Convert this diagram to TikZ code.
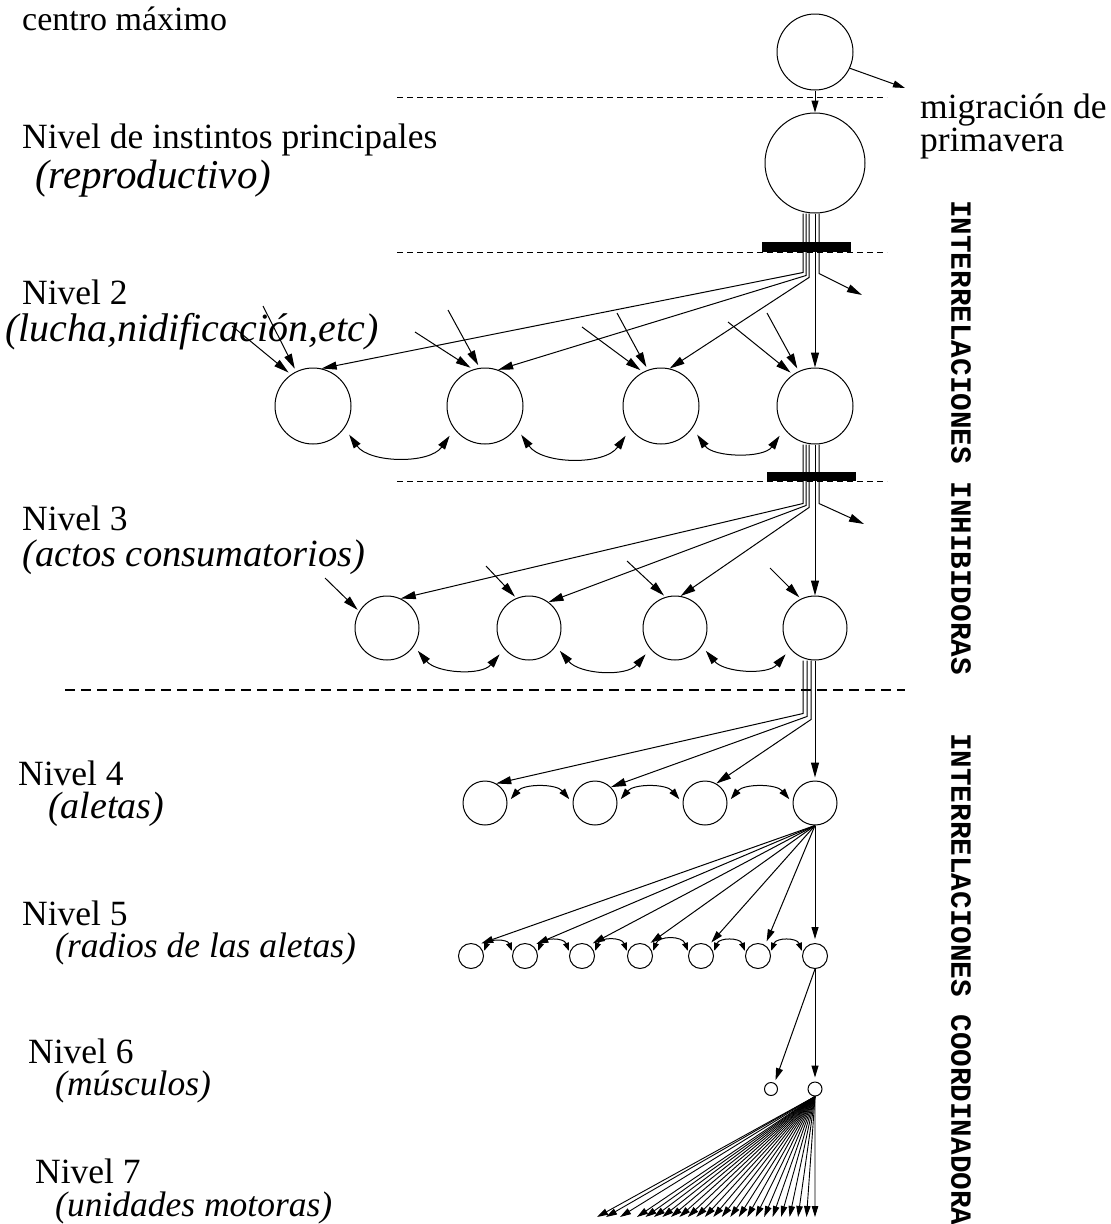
\documentclass[tikz,border=0pt]{standalone}
\usepackage{fontspec}
\setmainfont{Liberation Serif}
\newfontfamily\monobold{Liberation Mono}
\usetikzlibrary{arrows.meta,calc}
\begin{document}
\begin{tikzpicture}[x=1pt,y=1pt,
  neuron/.style={draw,circle,inner sep=0pt,line width=1pt},
  wire/.style={line width=1pt},
  arr/.style={wire,-{Triangle[length=15pt,width=8pt]}},
  arrm/.style={wire,-{Triangle[length=12pt,width=7pt]}},
  arrt/.style={line width=0.9pt,-{Triangle[length=11pt,width=6.5pt]}},
  twoway/.style={wire,{Triangle[length=14pt,width=8pt]}-{Triangle[length=14pt,width=8pt]}},
  twowaym/.style={wire,{Triangle[length=11pt,width=7pt]}-{Triangle[length=11pt,width=7pt]}},
  twoways/.style={wire,{Triangle[length=8pt,width=6pt]}-{Triangle[length=8pt,width=6pt]}},
  lbl/.style={anchor=base west,inner sep=0pt,font=\fontsize{#1}{40}\selectfont},
  lbl/.default=35.5,
  lbli/.style={anchor=base west,inner sep=0pt,font=\fontsize{#1}{40}\selectfont\itshape},
  lbli/.default=35.5,
  side/.style={rotate=-90,anchor=west,inner sep=0pt,font=\monobold\bfseries\fontsize{29.3}{30}\selectfont},
  sep/.style={line width=0.8pt,dash pattern=on 6pt off 4pt},
  bigsep/.style={line width=2.4pt,dash pattern=on 10pt off 6pt},
  bar/.style={fill=black,draw=none},
]
\useasboundingbox (0,0) rectangle (1111,-1224);

% ---------- neurons ----------
\node[neuron,minimum size=76pt]  (T1) at (815,-52) {};
\node[neuron,minimum size=100pt] (T2) at (815,-163) {};

\foreach \n/\x in {a/313,b/485,c/661,d/815}
  \node[neuron,minimum size=76pt] (L2\n) at (\x,-406) {};
\foreach \n/\x in {a/387,b/529,c/675,d/815}
  \node[neuron,minimum size=64pt] (L3\n) at (\x,-628) {};
\foreach \n/\x in {a/485,b/595,c/705,d/815}
  \node[neuron,minimum size=44pt] (L4\n) at (\x,-803) {};
\foreach \n/\x in {a/471,b/525,c/582,d/640,e/701,f/758,g/815}
  \node[neuron,minimum size=25pt] (L5\n) at (\x,-956) {};
\node[neuron,minimum size=13pt] (L6a) at (771,-1089) {};
\node[neuron,minimum size=14pt] (L6b) at (815,-1089) {};

% ---------- separators ----------
\draw[sep] (397,-97) -- (887,-97);
\draw[sep] (397,-252) -- (887,-252);
\draw[sep] (397,-481) -- (887,-481);
\draw[bigsep] (65,-690) -- (905,-690);
\fill[bar] (762,-242) rectangle (851,-252);
\fill[bar] (767,-472) rectangle (856,-481);

% ---------- top ----------
\coordinate (mig) at (905,-88);
\draw[arrm] (T1.-25) -- (mig);
\draw[arrm] (T1.south) -- (T2.north);

% ---------- level 2 ----------
\coordinate (r2) at (862,-295);
\draw[arr] ([xshift=-12pt]T2.south) -- ++(0,-59) -- (L2a.77);
\draw[arr] ([xshift=-9pt]T2.south) -- ++(0,-62) -- (L2b.70);
\draw[arr] ([xshift=-6pt]T2.south) -- ++(0,-64) -- (L2c.77);
\draw[arr] (T2.south) -- (L2d.north);
\draw[arr] ([xshift=4pt]T2.south) -- ++(0,-60) -- (r2);

\foreach \n/\sa/\sb/\aa/\ab in {a/{232,-326}/{263,-306}/125/116,
                                b/{415,-332}/{448,-310}/108/98,
                                c/{582,-327}/{617,-313}/118/110,
                                d/{728,-322}/{767,-313}/125/115}{
  \coordinate (e2\n1) at (\sa);
  \coordinate (e2\n2) at (\sb);
  \draw[arr,shorten >=3pt] (e2\n1) -- (L2\n.\aa);
  \draw[arr,shorten >=3pt] (e2\n2) -- (L2\n.\ab);
}
\foreach \p/\q in {a/b,b/c,c/d}
  \draw[twoway,shorten <=8pt,shorten >=8pt] (L2\p.-35) to[out=-55,in=-125] (L2\q.217);

% ---------- level 3 ----------
\coordinate (r3) at (864,-524);
\draw[arr] ([xshift=-12pt]L2d.south) -- ++(0,-59) -- (L3a.65);
\draw[arr] ([xshift=-9pt]L2d.south) -- ++(0,-61) -- (L3b.53);
\draw[arr] ([xshift=-6pt]L2d.south) -- ++(0,-63) -- (L3c.80);
\draw[arr] (L2d.south) -- (L3d.north);
\draw[arr] ([xshift=4pt]L2d.south) -- ++(0,-59) -- (r3);

\foreach \n/\s/\a in {a/{325,-578}/149,b/{486,-566}/113,c/{627,-561}/107,d/{770,-568}/116}{
  \coordinate (e3\n) at (\s);
  \draw[arr,shorten >=2pt] (e3\n) -- (L3\n.\a);
}
\foreach \p/\q in {a/b,b/c,c/d}
  \draw[twoway,shorten <=6pt,shorten >=7pt] (L3\p.-34) to[out=-50,in=-130] (L3\q.220);

% ---------- level 4 ----------
\draw[arr] ([xshift=-12pt]L3d.south) -- ++(0,-53) -- (L4a.60);
\draw[arr] ([xshift=-8pt]L3d.south) -- ++(0,-56) -- (L4b.45);
\draw[arr] ([xshift=-4pt]L3d.south) -- ++(0,-59) -- (L4c.60);
\draw[arr,shorten >=3pt] (L3d.south) -- (L4d.north);
\foreach \p/\q in {a/b,b/c,c/d}
  \draw[twowaym,shorten <=5pt,shorten >=5pt] (L4\p.east) to[out=50,in=130] (L4\q.west);

% ---------- level 5 ----------
\foreach \n/\a in {a/60,b/54,c/56,d/56,e/54,f/57}
  \draw[arrm,shorten >=4pt] (L4d.south) -- (L5\n.\a);
\draw[arrm,shorten >=4pt] (L4d.south) -- (L5g.north);
\foreach \p/\q in {a/b,b/c,c/d,d/e,e/f,f/g}
  \draw[twoways,shorten <=2pt,shorten >=2pt] (L5\p.15) to[out=70,in=110,looseness=1.3] (L5\q.165);

% ---------- level 6 ----------
\draw[arrm,shorten >=3pt] (L5g.south) -- (L6a.60);
\draw[arrm,shorten >=4pt] (L5g.south) -- (L6b.north);

% ---------- level 7 ----------
\foreach \x [count=\i] in {597,606,620}{
  \coordinate (u\i) at (\x,-1217);
  \draw[arrt] (L6b.south) -- (u\i);
}
\foreach \k in {0,...,21}{
  \pgfmathsetmacro{\ux}{637+\k*8.476}
  \coordinate (v\k) at (\ux,-1217);
  \draw[arrt] (L6b.south) -- (v\k);
}

% ---------- labels ----------
\node[lbl=34]  (t0)  at (22,-30)    {centro máximo};
\node[lbl]     (t1)  at (22,-148)   {Nivel de instintos principales};
\node[lbli=41] (t1b) at (35,-188)   {(reproductivo)};
\node[lbl]     (t2)  at (22,-304)   {Nivel 2};
\node[lbli=40] (t2b) at (5,-341)    {(lucha,nidificación,etc)};
\node[lbl]     (t3)  at (22,-530)   {Nivel 3};
\node[lbli=38.5] (t3b) at (22,-566) {(actos consumatorios)};
\node[lbl]     (t4)  at (18,-785)   {Nivel 4};
\node[lbli=38] (t4b) at (48,-818)   {(aletas)};
\node[lbl]     (t5)  at (22,-925)   {Nivel 5};
\node[lbli]    (t5b) at (55,-957)   {(radios de las aletas)};
\node[lbl]     (t6)  at (28,-1063)  {Nivel 6};
\node[lbli]    (t6b) at (55,-1095)  {(músculos)};
\node[lbl]     (t7)  at (35,-1183)  {Nivel 7};
\node[lbli]    (t7b) at (55,-1216)  {(unidades motoras)};
\node[lbl]     (tm1) at (920,-118)  {migración de};
\node[lbl]     (tm2) at (920,-151)  {primavera};

\node[side] (s1) at (961,-200) {INTERRELACIONES INHIBIDORAS};
\node[side] (s2) at (961,-733) {INTERRELACIONES COORDINADORA};
\end{tikzpicture}
\end{document}
